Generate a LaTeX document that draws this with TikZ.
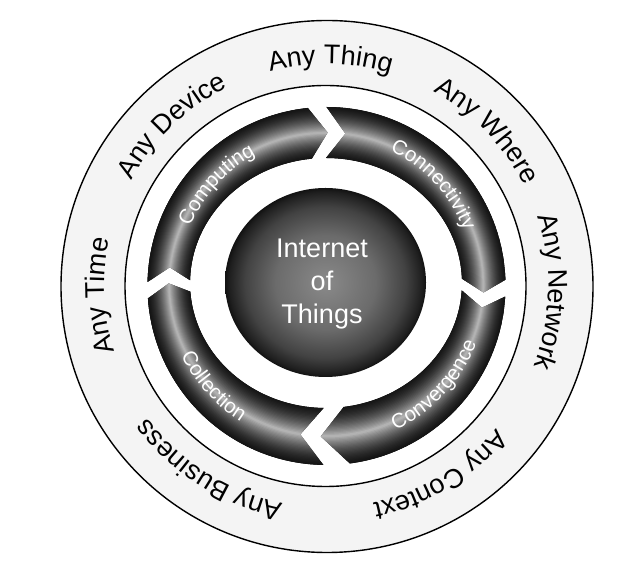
\documentclass[tikz,border=0pt]{standalone}
\usepackage{fontspec}
\setmainfont{Liberation Sans}
\usetikzlibrary{calc,decorations.text}
\definecolor{bandgray}{HTML}{F4F4F4}
\pgfdeclareradialshading{ballsh}{\pgfpoint{0bp}{0bp}}{color(0bp)=(black!46); color(12.5bp)=(black!58); color(20bp)=(black!74); color(24bp)=(black!88); color(25bp)=(black!93); color(50bp)=(black!93)}
% #1 tail angle, #2 head base angle, #3 tip angle, #4 notch angle
\newcommand\ringarrow[4]{({326.5+179*cos(#1)},{282+179*sin(#1)}) arc[start angle=#1, end angle=#2, radius=179]
 -- ({326.25+157.5*cos(#3)},{283.5+152*sin(#3)})
 -- ({326+136*cos(#2)},{285+125*sin(#2)}) arc[start angle=#2, end angle=#1, x radius=136, y radius=125]
 -- ({326.25+157.5*cos(#4)},{283.5+152*sin(#4)}) -- cycle}
\begin{document}
\begin{tikzpicture}[x=1bp,y=1bp,
  ringline/.style={draw=black, line width=1.4bp},
  tube/.style={fill=black!90, path picture={
    \foreach \i in {0,...,45}{
      \pgfmathsetmacro\t{\i/45}
      \pgfmathsetmacro\u{1-abs(2*\t-1)}
      \pgfmathsetmacro\bl{100*(1-(0.08+0.64*(0.35*\u+0.65*\u*\u)))}
      \draw[black!\bl, line width=1.8bp] ({326+0.5*\t},{285-3*\t}) ellipse [x radius={136+43*\t}, y radius={125+54*\t}];
    }}},
  outerlabel/.style={decorate, decoration={text along path, text align=center,
      text={|\fontsize{27bp}{30bp}\selectfont|#1}}},
  innerlabel/.style={decorate, decoration={text along path, text align=center,
      text={|\color{white}\fontsize{20.5bp}{23bp}\selectfont|#1}}}
]
\useasboundingbox (0,0) rectangle (642,568);
% outer band and inner disc
\path[ringline, fill=bandgray] (327,281.5) circle [radius=266];
\path[ringline, fill=white] (325.5,282) circle [radius=200.5];
% the four ring arrows
\path[tube] \ringarrow{178.7}{96}{89.5}{173.5};
\path[tube] \ringarrow{90}{2}{-3}{83};
\path[tube] \ringarrow{-3.4}{-82.5}{-92}{-8.8};
\path[tube] \ringarrow{-91}{-176}{-180.4}{-99.5};
% central ball
\shade[shading=ballsh] (325.5,285.5) ellipse [x radius=100.5, y radius=94.5];
\node[text=white, align=center, font=\fontsize{27bp}{33bp}\selectfont] (iot) at (322,284) {Internet\\of\\Things};
% labels on the arrows
\path[innerlabel=Computing] ($(326.25,283.5)+(187.7:148)$) arc[start angle=187.7, end angle=87.7, radius=148];
\path[innerlabel=Connectivity] ($(326.25,283.5)+(93:148)$) arc[start angle=93, end angle=-7, radius=148];
\path[innerlabel=Convergence] ($(326.25,283.5)+(-93:161.5)$) arc[start angle=-93, end angle=7, radius=161.5];
\path[innerlabel=Collection] ($(326.25,283.5)+(-188:161.5)$) arc[start angle=-188, end angle=-88, radius=161.5];
% labels in the outer band
\path[outerlabel=Any Thing] ($(326.5,282)+(149:222)$) arc[start angle=149, end angle=29, radius=222];
\path[outerlabel=Any Where] ($(326.5,282)+(104:222)$) arc[start angle=104, end angle=-16, radius=222];
\path[outerlabel=Any Network] ($(326.5,282)+(58.5:222)$) arc[start angle=58.5, end angle=-61.5, radius=222];
\path[outerlabel=Any Context] ($(326.5,282)+(1:222)$) arc[start angle=1, end angle=-119, radius=222];
\path[outerlabel=Any Business] ($(326.5,282)+(-62.5:222)$) arc[start angle=-62.5, end angle=-182.5, radius=222];
\path[outerlabel=Any Time] ($(326.5,282)+(242.5:222)$) arc[start angle=242.5, end angle=122.5, radius=222];
\path[outerlabel=Any Device] ($(326.5,282)+(194:222)$) arc[start angle=194, end angle=74, radius=222];
\end{tikzpicture}
\end{document}
